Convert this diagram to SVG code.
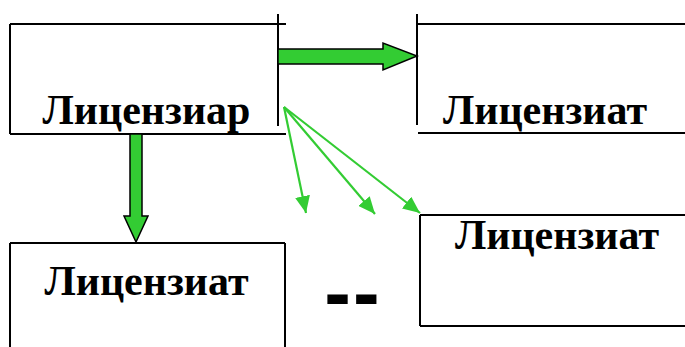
<svg xmlns="http://www.w3.org/2000/svg" width="685" height="347" viewBox="0 0 685 347">
<style>
.ln{stroke:#000;stroke-width:2;fill:none}
.lbl{font-family:"Liberation Serif","Times New Roman",serif;font-weight:bold;font-size:42px;fill:#000;text-anchor:middle}
.big{fill:#33cc33;stroke:#000;stroke-width:1.5;stroke-linejoin:miter}
.thin{stroke:#33cc33;stroke-width:2.2;fill:none}
</style>
<defs>
<marker id="ah" markerUnits="userSpaceOnUse" markerWidth="17" markerHeight="15" refX="17" refY="7.5" orient="auto">
<path d="M0,0 L17,7.5 L0,15 Z" fill="#33cc33"/>
</marker>
</defs>
<rect width="685" height="347" fill="#fff"/>
<g id="licenziar">
<path class="ln" d="M10,24 H286 M10,24 V134 M278,14 V126 M10,134 H286"/>
<text class="lbl" x="146.5" y="124">Лицензиар</text>
</g>
<g id="licenziat-top">
<path class="ln" d="M417,14 V125 M418,24 H685 M418,133 H685"/>
<text class="lbl" x="545" y="124">Лицензиат</text>
</g>
<g id="licenziat-left">
<path class="ln" d="M10,243 H285 M10,243 V347 M285,243 V347"/>
<text class="lbl" x="146.5" y="295">Лицензиат</text>
</g>
<g id="licenziat-right">
<path class="ln" d="M420,215 H685 M420,215 V326 M420,326 H685"/>
<text class="lbl" x="557" y="249">Лицензиат</text>
</g>
<g id="dots">
<text x="353" y="320" font-family="Liberation Sans, Arial, sans-serif" font-weight="bold" font-size="80" letter-spacing="2" text-anchor="middle">--</text>
</g>
<g id="connectors">
<polygon class="big" points="278,49 383,49 383,43 417,56 383,70 383,64 278,64"/>
<polygon class="big" points="130,134 142,134 142,216 148,216 136,242 124,216 130,216"/>
<line class="thin" x1="284" y1="107" x2="306" y2="213" marker-end="url(#ah)"/>
<line class="thin" x1="284" y1="107" x2="375" y2="214" marker-end="url(#ah)"/>
<line class="thin" x1="284" y1="107" x2="420" y2="213" marker-end="url(#ah)"/>
</g>
</svg>
